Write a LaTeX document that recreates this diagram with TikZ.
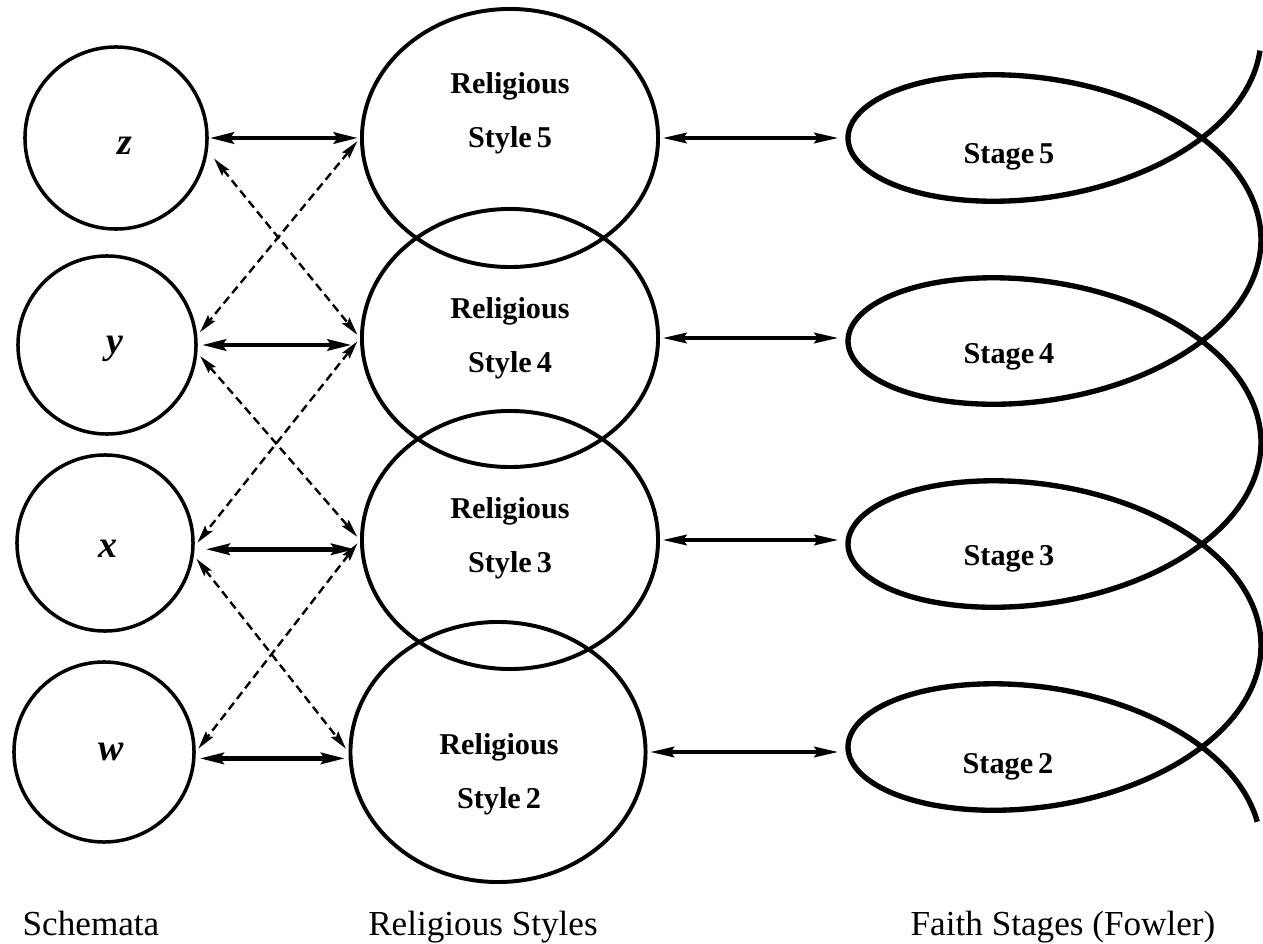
\documentclass[tikz,border=0pt]{standalone}
\usepackage{fontspec}
\setmainfont{Liberation Serif}
\usetikzlibrary{arrows.meta,shapes.geometric}
\begin{document}
\begin{tikzpicture}[x=0.025cm,y=-0.025cm,
  circ/.style={draw,circle,line width=2.5pt,inner sep=0pt},
  ell/.style={draw,ellipse,line width=2.8pt,inner sep=0pt,minimum width=7.4cm,minimum height=6.45cm},
  rtext/.style={font=\fontsize{21.5}{38.4}\selectfont\bfseries,align=center,inner sep=0pt},
  stext/.style={font=\fontsize{21.5}{26}\selectfont\bfseries,inner sep=0pt,anchor=base},
  vtext/.style={font=\fontsize{27}{30}\selectfont\bfseries\itshape,inner sep=0pt,anchor=base},
  btext/.style={font=\fontsize{25}{30}\selectfont,inner sep=0pt,anchor=base},
  sar/.style={line width=3.2pt,{Stealth[length=17pt,width=8pt,inset=2.5pt]}-{Stealth[length=17pt,width=8pt,inset=2.5pt]}},
  rar/.style={line width=2.5pt,{Stealth[length=17pt,width=7.5pt,inset=2.5pt]}-{Stealth[length=17pt,width=7.5pt,inset=2.5pt]}},
  dar/.style={line width=1.7pt,dash pattern=on 6pt off 3.5pt,{Stealth[length=13pt,width=6.5pt,inset=2pt]}-{Stealth[length=13pt,width=6.5pt,inset=2pt]},shorten <=3pt,shorten >=3pt}]
\useasboundingbox (0,0) rectangle (1263,944);

% schemata circles
\node[circ,minimum size=4.55cm] (z) at (116,138) {};
\node[circ,minimum size=4.45cm] (y) at (107,345) {};
\node[circ,minimum size=4.4cm] (x) at (105,543) {};
\node[circ,minimum size=4.5cm] (w) at (104,752) {};
\node[vtext] (zl) at (125,155) {z};
\node[vtext] (yl) at (115,354) {y};
\node[vtext] (xl) at (108,557) {x};
\node[vtext] (wl) at (111,760) {w};

% religious style ellipses
\node[ell] (s5) at (510,138) {};
\node[ell] (s4) at (510,338) {};
\node[ell] (s3) at (510,540) {};
\node[ell,minimum width=7.375cm,minimum height=6.5cm] (s2) at (498,752) {};
\node[rtext] (r5) at (510,113) {Religious\\Style\,5};
\node[rtext] (r4) at (510,338) {Religious\\Style\,4};
\node[rtext] (r3) at (510,538) {Religious\\Style\,3};
\node[rtext] (r2) at (499,774) {Religious\\Style\,2};

% faith stage spiral
\draw[line width=3.8pt,line join=round]
  plot[domain=0.1:24.95,samples=600,variable=\t]
  ({1054.5+206.5*cos(\t r)},{36.5+32.31*\t+109.2*sin(\t r)});
\coordinate (p5) at (848,138);
\coordinate (p4) at (848,341);
\coordinate (p3) at (848,545);
\coordinate (p2) at (848,748);
\node[stext] (g5) at (1009,164) {Stage\,5};
\node[stext] (g4) at (1009,364) {Stage\,4};
\node[stext] (g3) at (1009,565) {Stage\,3};
\node[stext] (g2) at (1008,773) {Stage\,2};

% solid arrows schemata <-> styles
\draw[sar,shorten <=0.7pt,shorten >=1.5pt] (z.east) -- (z.east -| s5.west);
\draw[sar,shorten <=3pt,shorten >=6pt] (y.east) -- (y.east -| s4.west);
\draw[sar,shorten <=8pt,shorten >=3.5pt] (x.-4) -- (x.-4 -| s3.west);
\draw[sar,shorten <=3pt,shorten >=2.5pt] (w.-4) -- (w.-4 -| s2.west);

% dashed cross arrows
\draw[dar,shorten <=7pt] (z.-8) -- (s4.west);
\draw[dar] (s5.west) -- (y.6);
\draw[dar] (y.-5) -- (s3.west);
\draw[dar] (s4.west) -- (x.-2);
\draw[dar] (x.-8) -- (s2.west);
\draw[dar] (s3.west) -- (w.0);

% styles <-> stages
\draw[rar,shorten <=2pt,shorten >=7pt] (s5.east) -- (s5.east -| p5);
\draw[rar,shorten <=2pt,shorten >=7pt] (s4.east) -- (s4.east -| p4);
\draw[rar,shorten <=2pt,shorten >=7pt] (s3.east) -- (s3.east -| p3);
\draw[rar,shorten <=2pt,shorten >=7pt] (s2.east) -- (s2.east -| p2);

% column labels
\node[btext] (lab1) at (91,935) {Schemata};
\node[btext] (lab2) at (483,935) {Religious Styles};
\node[btext] (lab3) at (1063,935) {Faith Stages (Fowler)};
\end{tikzpicture}
\end{document}
